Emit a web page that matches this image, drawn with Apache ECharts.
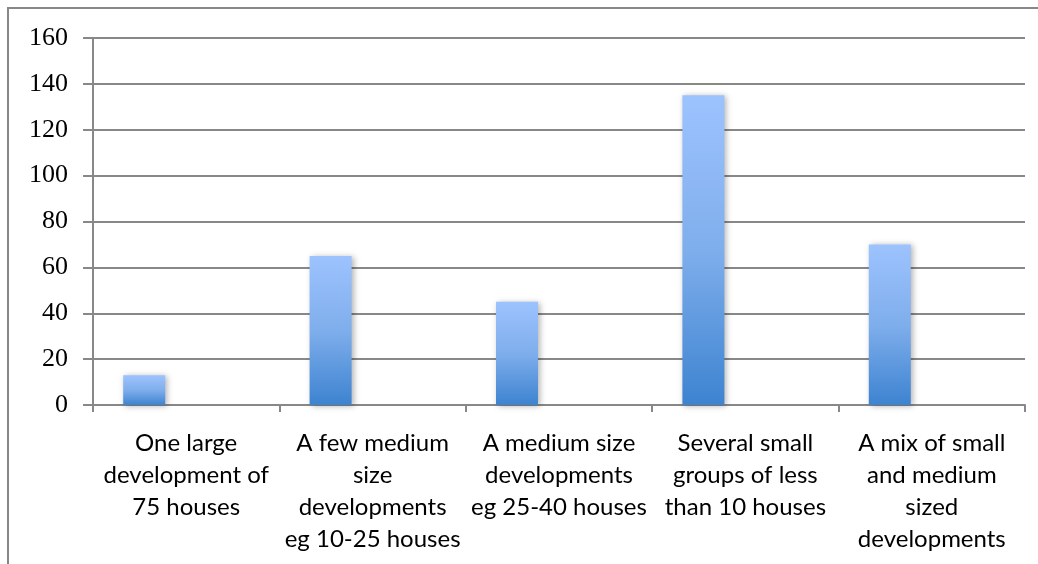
<!DOCTYPE html>
<html>
<head>
<meta charset="utf-8">
<script src="https://cdn.jsdelivr.net/npm/echarts@6/dist/echarts.min.js"></script>
<style>
html,body{margin:0;padding:0;background:#fff;}
#chart{width:1038px;height:564px;}
</style>
</head>
<body>
<div id="chart"></div>
<script>
const categories = [
  "One large\ndevelopment of\n75 houses",
  "A few medium\nsize\ndevelopments\neg 10-25 houses",
  "A medium size\ndevelopments\neg 25-40 houses",
  "Several small\ngroups of less\nthan 10 houses",
  "A mix of small\nand medium\nsized\ndevelopments"
];
const values = [13, 65, 45, 135, 70];
const emptyA = ['-', '-', '-', '-', '-'];
const emptyB = ['-', '-', '-', '-', '-'];
const yMin = 0, yMax = 160, yStep = 20;

const chart = echarts.init(document.getElementById('chart'));
const grey = '#888888';
chart.setOption({
  animation: false,
  graphic: [{
    type: 'rect', silent: true, z: -1,
    shape: {x: 8, y: 8, width: 1100, height: 700},
    style: {fill: 'none', stroke: grey, lineWidth: 2}
  }],
  grid: {left: 93, right: 13, top: 38, bottom: 159, containLabel: false},
  xAxis: {
    type: 'category',
    data: categories,
    boundaryGap: true,
    axisLine: {show: true, lineStyle: {color: grey, width: 2}},
    axisTick: {show: true, length: 7, lineStyle: {color: grey, width: 2}},
    axisLabel: {
      interval: 0, margin: 22,
      fontFamily: 'Lato', fontSize: 24, lineHeight: 32, color: '#000',
      align: 'center'
    }
  },
  yAxis: {
    type: 'value', min: yMin, max: yMax, interval: yStep,
    axisLine: {show: true, lineStyle: {color: grey, width: 2}},
    axisTick: {show: true, length: 10, lineStyle: {color: grey, width: 2}},
    splitLine: {show: true, lineStyle: {color: grey, width: 2}},
    axisLabel: {
      margin: 25, fontFamily: 'Liberation Serif', fontSize: 26, color: '#000'
    }
  },
  series: [
    {
      type: 'bar', data: values, barWidth: 42, barGap: '0%',
      itemStyle: {
        color: new echarts.graphic.LinearGradient(0, 0, 0, 1, [
          {offset: 0, color: '#9DC3FE'},
          {offset: 0.5, color: '#7FAEEC'},
          {offset: 1, color: '#3D83D0'}
        ]),
        shadowBlur: 6, shadowColor: 'rgba(0,0,0,0.3)',
        shadowOffsetX: 2, shadowOffsetY: 1
      }
    },
    {type: 'bar', data: emptyA, barWidth: 42, barGap: '0%'},
    {type: 'bar', data: emptyB, barWidth: 42, barGap: '0%'}
  ]
});
</script>
</body>
</html>
